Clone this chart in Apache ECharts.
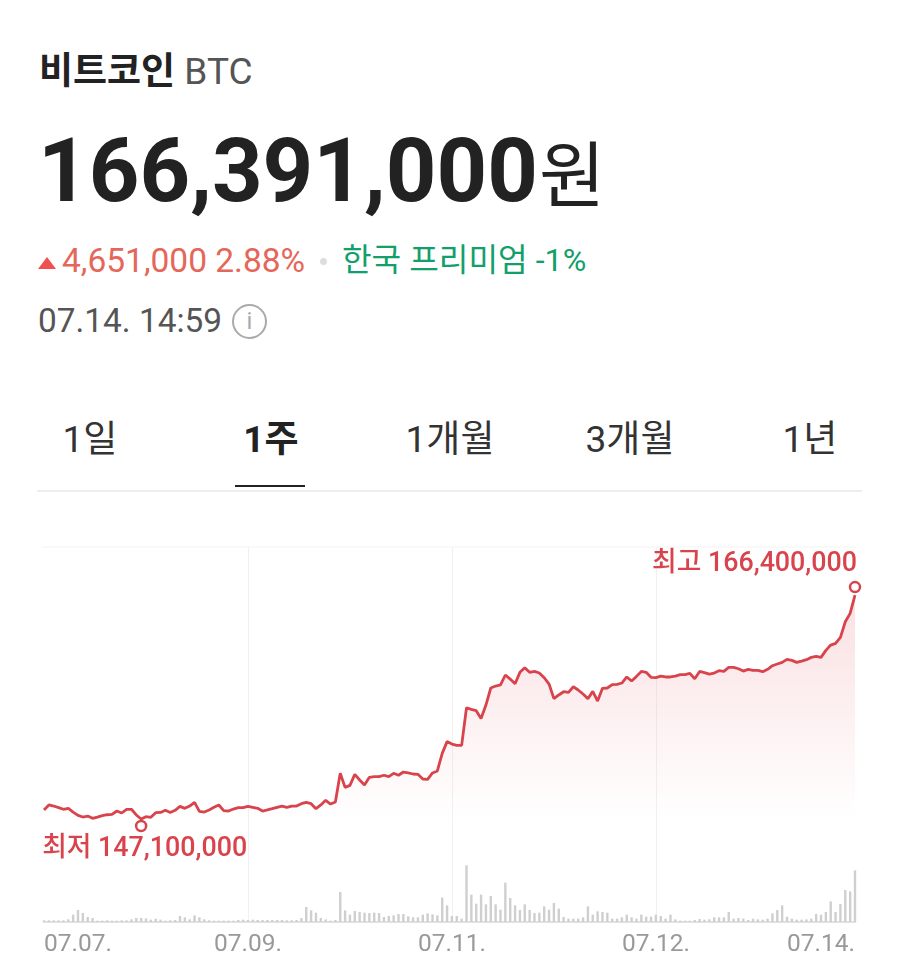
<!DOCTYPE html>
<html>
<head>
<meta charset="UTF-8" />
<title>비트코인</title>
<script src="https://cdn.jsdelivr.net/npm/echarts@6/dist/echarts.min.js"></script>
<style>
  html, body { margin: 0; padding: 0; background: #fff; }
  body { width: 900px; height: 974px; position: relative; overflow: hidden;
         font-family: Roboto, "Noto Sans CJK KR", sans-serif; }
  .t { position: absolute; white-space: nowrap; line-height: 1; }
  .tab { position: absolute; top: 421px; font-size: 37px; color: #333; line-height: 1;
         transform: translateX(-50%); white-space: nowrap; }
  #chart { position: absolute; left: 0; top: 520px; width: 900px; height: 454px; }
</style>
</head>
<body>
  <div class="t" style="left:39px;top:53px;font-size:37px;color:#222;font-weight:700">비트코인 <span style="font-weight:400;color:#555">BTC</span></div>
  <div class="t" style="left:38px;top:127px;font-size:88.4px;color:#222;font-weight:700">166,391,000<span style="font-size:72px;font-weight:400;margin-left:1px">원</span></div>

  <div style="position:absolute;left:38px;top:257px;width:0;height:0;border-left:9px solid transparent;border-right:9px solid transparent;border-bottom:12px solid #f0504f"></div>
  <div class="t" style="left:62px;top:244px;font-size:33.5px;color:#e4675a">4,651,000 2.88%</div>
  <div style="position:absolute;left:320px;top:258px;width:7px;height:7px;border-radius:50%;background:#ddd"></div>
  <div class="t" style="left:342px;top:244px;font-size:32.2px;color:#12a06a">한국 프리미엄 -1%</div>

  <div class="t" style="left:38px;top:304px;font-size:33.4px;color:#555">07.14. 14:59</div>
  <div class="t" style="left:232px;top:304px;width:31px;height:31px;border:2.5px solid #aaa;border-radius:50%;text-align:center;font-size:24px;line-height:31px;color:#aaa">i</div>

  <div class="tab" style="left:90px">1일</div>
  <div class="tab" style="left:271px;font-weight:700;color:#222">1주</div>
  <div class="tab" style="left:450px">1개월</div>
  <div class="tab" style="left:630px">3개월</div>
  <div class="tab" style="left:810px">1년</div>
  <div style="position:absolute;left:235px;top:485px;width:70px;height:2px;background:#222"></div>
  <div style="position:absolute;left:37px;top:490px;width:825px;height:2px;background:#eee"></div>

  <div id="chart"></div>

<script>
// 가격 (백만원), 1시간 단위 168개
var priceM = [
  147.88,148.31,148.22,148.08,147.94,148.02,147.70,147.42,147.27,147.36,
  147.16,147.27,147.39,147.47,147.50,147.79,147.62,147.94,147.94,147.45,
  147.10,147.30,147.25,147.65,147.67,147.85,147.67,147.85,148.19,148.02,
  148.22,148.54,147.76,147.70,147.88,148.11,148.31,147.82,147.79,147.96,
  148.08,148.08,148.19,148.11,148.02,147.79,147.88,147.99,148.11,148.22,
  148.11,148.22,148.22,148.42,148.54,148.42,147.99,148.31,148.71,148.39,
  148.57,151.04,149.83,150.00,150.95,150.46,150.03,150.69,150.75,150.75,
  150.87,150.75,151.04,150.87,151.15,151.07,150.98,150.95,150.55,150.52,
  151.07,151.24,152.76,153.77,153.56,153.45,153.45,156.69,156.55,156.44,
  155.77,156.92,158.39,158.56,158.65,159.51,159.16,158.76,159.74,160.14,
  159.74,159.82,159.68,159.28,158.73,157.47,157.79,158.07,158.01,158.50,
  158.22,157.87,157.47,158.10,157.27,158.36,158.39,158.68,158.70,158.82,
  159.34,158.99,159.39,159.82,159.74,159.31,159.28,159.42,159.34,159.34,
  159.42,159.54,159.54,159.65,159.19,159.82,159.71,159.59,159.68,159.88,
  159.82,160.17,160.17,160.05,159.85,160.00,159.91,159.91,159.80,160.00,
  160.31,160.46,160.60,160.86,160.77,160.60,160.71,160.83,161.03,161.12,
  161.03,161.63,162.09,162.24,162.75,164.10,164.82,166.40
];
// 거래량 (상대값)
var volume = [
  5,5,5,5,5,8,22,36,27,15,
  12,4,4,5,4,4,5,5,8,12,
  12,11,7,10,7,4,5,6,18,14,
  8,20,14,8,5,4,4,4,4,4,
  6,7,6,7,6,6,6,6,6,6,
  5,5,6,12,45,35,28,12,8,4,
  6,90,35,22,33,30,28,27,28,27,
  15,18,20,24,24,17,14,14,22,26,
  23,20,73,50,18,18,10,170,82,55,
  82,53,78,53,37,118,72,50,36,53,
  36,27,28,47,37,57,40,15,10,10,
  10,14,47,22,32,30,28,10,10,14,
  22,14,10,22,16,16,22,18,10,22,
  8,4,4,4,6,9,7,8,14,14,
  14,30,10,12,10,6,10,8,7,10,
  26,36,50,16,10,7,7,8,10,24,
  22,30,62,30,54,96,92,155
];
var tickIndex = [0, 42, 84, 126, 167];
var tickLabels = ['07.07.', '07.09.', '07.11.', '07.12.', '07.14.'];
var gridIndex = [42, 84, 126];

var RED = '#d9434c';
var FONT = 'Roboto, "Noto Sans CJK KR", sans-serif';
var hours = priceM.map(function (v, i) { return i; });
var won = priceM.map(function (v) { return Math.round(v * 1000000); });

function money(v) {
  return String(v).replace(/\B(?=(\d{3})+$)/g, ',');
}
function isGrid(i) {
  return gridIndex.indexOf(i) >= 0;
}

var myChart = echarts.init(document.getElementById('chart'));
myChart.setOption({
  animation: false,
  grid: [
    { left: 44, right: 45, top: 27, height: 274 },
    { left: 44, right: 45, top: 301, height: 101 }
  ],
  xAxis: [
    {
      type: 'category', gridIndex: 0, data: hours, boundaryGap: false,
      axisLine: { show: false }, axisTick: { show: false }, axisLabel: { show: false },
      splitLine: { show: true, interval: function (i) { return isGrid(i); }, lineStyle: { color: '#f1f1f3', width: 1 } }
    },
    {
      type: 'category', gridIndex: 1, data: hours, boundaryGap: false,
      axisLine: { show: true, lineStyle: { color: '#e2e2e2', width: 2 } },
      axisTick: { show: false },
      splitLine: { show: true, interval: function (i) { return isGrid(i); }, lineStyle: { color: '#f1f1f3', width: 1 } },
      axisLabel: {
        interval: function (i) { return tickIndex.indexOf(i) >= 0; },
        formatter: function (v) { return tickLabels[tickIndex.indexOf(Number(v))]; },
        color: '#999', fontSize: 24.5, fontFamily: FONT, margin: 11,
        alignMinLabel: 'left', alignMaxLabel: 'right', showMinLabel: true, showMaxLabel: true
      }
    }
  ],
  yAxis: [
    {
      type: 'value', gridIndex: 0, min: 146930000, max: 170540000, interval: 23610000,
      axisLine: { show: false }, axisTick: { show: false }, axisLabel: { show: false },
      splitLine: { show: false }
    },
    {
      type: 'value', gridIndex: 1, min: 0, max: 303,
      axisLine: { show: false }, axisTick: { show: false }, axisLabel: { show: false },
      splitLine: { show: false }
    }
  ],
  graphic: [
    { type: 'line', shape: { x1: 42, y1: 27, x2: 856, y2: 27 }, style: { stroke: '#f3f3f5', lineWidth: 1 }, silent: true }
  ],
  series: [
    {
      name: '가격', type: 'line', xAxisIndex: 0, yAxisIndex: 0, data: won,
      showSymbol: false, smooth: false, clip: false,
      lineStyle: { color: RED, width: 2.8 },
      itemStyle: { color: RED },
      areaStyle: {
        color: new echarts.graphic.LinearGradient(0, 0, 0, 1, [
          { offset: 0, color: 'rgba(226,70,80,0.24)' },
          { offset: 1, color: 'rgba(226,70,80,0)' }
        ])
      },
      markPoint: {
        symbol: 'circle', symbolSize: 10, silent: true,
        itemStyle: { color: '#fff', borderColor: RED, borderWidth: 2.5 },
        label: { color: RED, fontSize: 26.8, fontWeight: 500, fontFamily: FONT },
        data: [
          {
            type: 'max', symbolOffset: [0, -8],
            label: { position: 'top', align: 'right', distance: 0, offset: [2, -3],
              formatter: function (p) { return '최고 ' + money(p.value); } }
          },
          {
            type: 'min', symbolOffset: [0, 7],
            label: { position: 'bottom', align: 'left', distance: 0, offset: [-99, 4],
              formatter: function (p) { return '최저 ' + money(p.value); } }
          }
        ]
      }
    },
    {
      name: '거래량', type: 'bar', xAxisIndex: 1, yAxisIndex: 1, data: volume,
      barWidth: 2.4, clip: false, itemStyle: { color: '#cfcfcf' }
    }
  ]
});
</script>
</body>
</html>
